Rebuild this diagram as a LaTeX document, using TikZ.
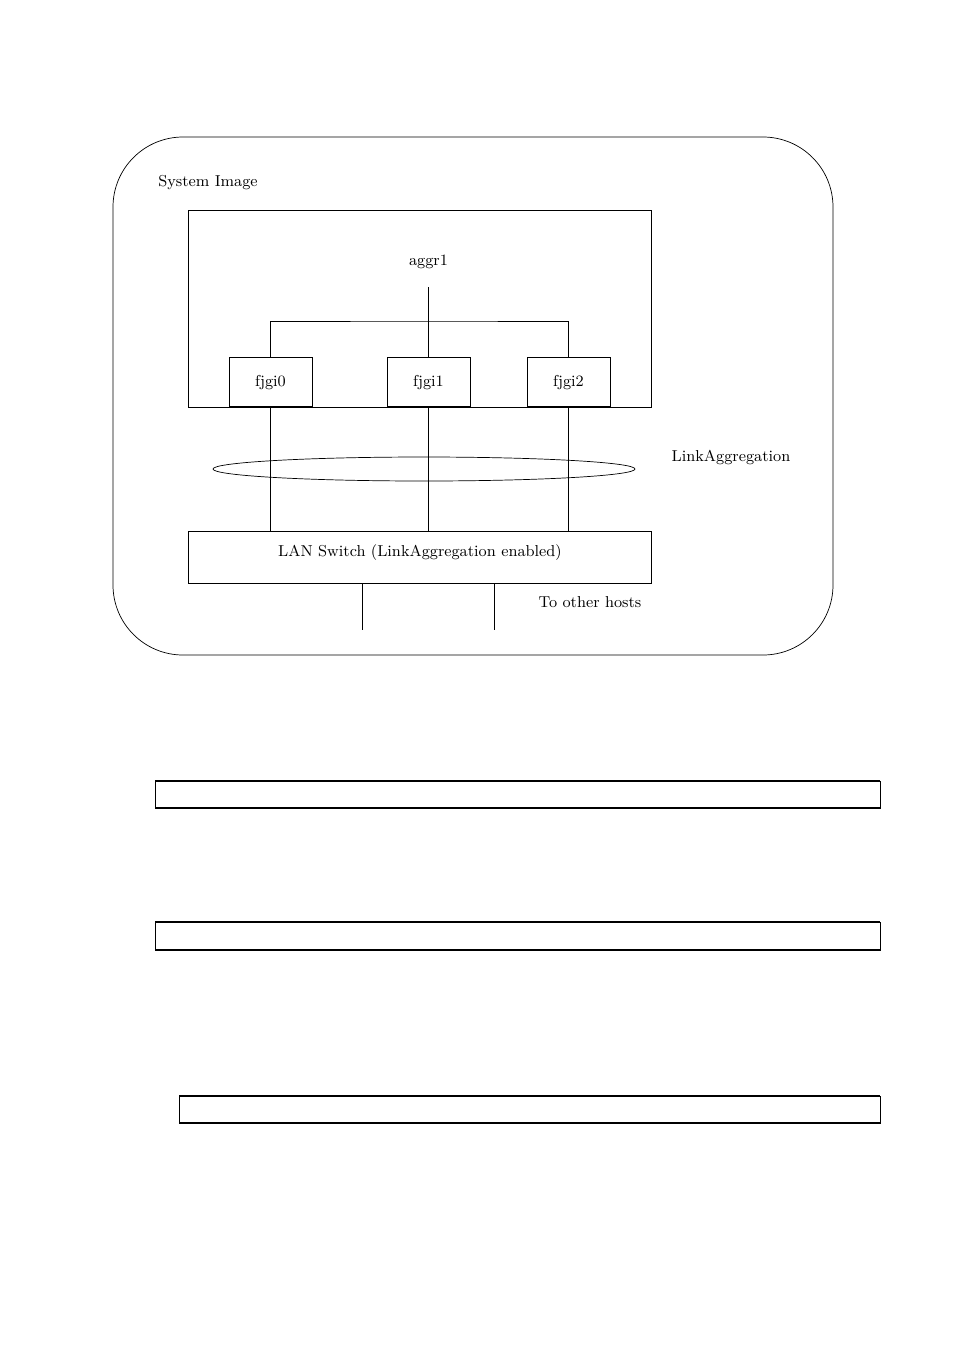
\documentclass[tikz,border=0pt]{standalone}
\usetikzlibrary{positioning}
\tikzset{
  ifbox/.style={draw,minimum width=1.66cm,minimum height=0.98cm,inner sep=0pt},
  txt/.style={font=\small,inner sep=0pt},
  cmdbox/.style={draw,thin},
}
\begin{document}
\begin{tikzpicture}[x=0.02cm,y=-0.02cm]
  \useasboundingbox (0,0) rectangle (954,1350);

  % system image frame
  \draw[rounded corners=1.4cm] (113,137) rectangle (833,655);
  \node[txt] (sysimg) at (208,183) {System Image};

  % aggregation host box
  \draw (188,210) rectangle (651,407);
  \node[txt] (aggr) at (428.5,262) {aggr1};
  \coordinate (aggrbot) at (428.5,287);
  \coordinate (bar) at (428.5,321);

  \node[ifbox,anchor=south] (fjgi0) at (270.5,407) {\small fjgi0};
  \node[ifbox,anchor=south] (fjgi1) at (428.5,407) {\small fjgi1};
  \node[ifbox,anchor=south] (fjgi2) at (568.5,407) {\small fjgi2};

  \draw (aggrbot) -- (bar);
  \draw (fjgi0.north) |- (bar) -| (fjgi2.north);
  \draw (bar) -- (fjgi1.north);

  % switch
  \node[draw,minimum width=9.26cm,minimum height=1.04cm,inner sep=0pt,anchor=north west]
       (switch) at (188,531) {};
  \node[txt] (swlabel) at (420,553) {LAN Switch (LinkAggregation enabled)};

  \draw (fjgi0.south) -- (fjgi0.south |- switch.north);
  \draw (fjgi1.south) -- (fjgi1.south |- switch.north);
  \draw (fjgi2.south) -- (fjgi2.south |- switch.north);

  \draw (424,469) ellipse [x radius=211,y radius=12];
  \node[txt] (linkagg) at (731,457) {LinkAggregation};

  \coordinate (hostA) at (362,630);
  \coordinate (hostB) at (494,630);
  \draw (hostA |- switch.south) -- (hostA);
  \draw (hostB |- switch.south) -- (hostB);
  \node[txt] (others) at (590,602) {To other hosts};

  % command boxes
  \foreach \xa/\ya/\yb in {155/781/808, 155/922/950, 179/1096/1123}{
    \draw[cmdbox] (\xa,\ya) rectangle (880,\yb);
    \draw[line width=1.2pt] (\xa,\ya) -- (880,\ya);
    \draw[line width=1.2pt] (\xa,\yb) -- (880,\yb);
  }
\end{tikzpicture}
\end{document}
